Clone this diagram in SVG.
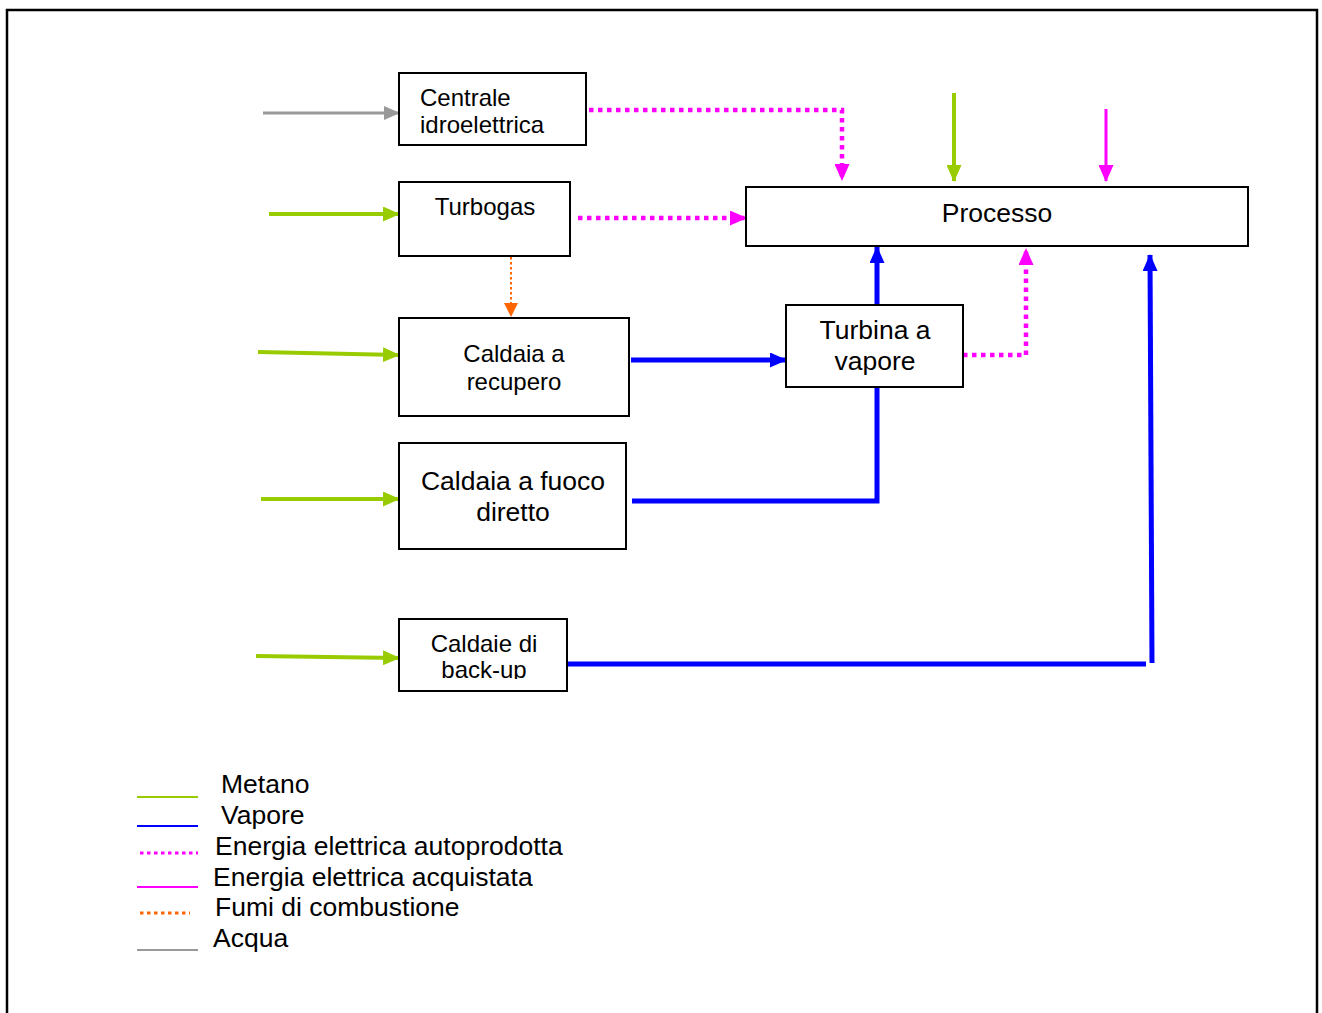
<svg xmlns="http://www.w3.org/2000/svg" width="1322" height="1013" viewBox="0 0 1322 1013">
<style>
.box{fill:#fff;stroke:#000;stroke-width:2}
.t{font-family:"Liberation Sans",Arial,sans-serif;fill:#000}
.s{font-size:24px}
.b{font-size:26.5px}
.green{stroke:#99cc00;stroke-width:4;fill:none}
.blue{stroke:#0000ff;stroke-width:5;fill:none}
.mag{stroke:#ff00ff;stroke-width:3;fill:none}
.magd{stroke:#ff00ff;stroke-width:4.5;stroke-dasharray:4.5 4.5;fill:none}
.orgd{stroke:#ff6600;stroke-width:2;stroke-dasharray:2.5 2.5;fill:none}
.gray{stroke:#999999;stroke-width:3;fill:none}
</style>
<defs>
<marker id="aG" markerUnits="userSpaceOnUse" markerWidth="17" markerHeight="15" refX="16" refY="7.5" orient="auto"><path d="M0,0L17,7.5L0,15z" fill="#99cc00"/></marker>
<marker id="aB" markerUnits="userSpaceOnUse" markerWidth="17" markerHeight="15" refX="16" refY="7.5" orient="auto"><path d="M0,0L17,7.5L0,15z" fill="#0000ff"/></marker>
<marker id="aM" markerUnits="userSpaceOnUse" markerWidth="17" markerHeight="15" refX="16" refY="7.5" orient="auto"><path d="M0,0L17,7.5L0,15z" fill="#ff00ff"/></marker>
<marker id="aO" markerUnits="userSpaceOnUse" markerWidth="14" markerHeight="14" refX="13" refY="7" orient="auto"><path d="M0,0L14,7L0,14z" fill="#ff6600"/></marker>
<marker id="aA" markerUnits="userSpaceOnUse" markerWidth="16" markerHeight="14" refX="15" refY="7" orient="auto"><path d="M0,0L16,7L0,14z" fill="#999999"/></marker>
<clipPath id="clipBk"><rect x="399" y="619" width="168" height="60"/></clipPath>
</defs>
<rect width="1322" height="1013" fill="#fff"/>
<path d="M7,1013V10H1317V1013" fill="none" stroke="#000" stroke-width="2.5"/>

<g id="connectors">
<path class="gray" d="M263,113H399" marker-end="url(#aA)"/>
<path class="green" d="M269,214H399" marker-end="url(#aG)"/>
<path class="green" d="M258,352L399,355" marker-end="url(#aG)"/>
<path class="green" d="M261,499H399" marker-end="url(#aG)"/>
<path class="green" d="M256,656L399,658" marker-end="url(#aG)"/>
<path class="green" d="M954,93V181" marker-end="url(#aG)"/>
<path class="mag" d="M1106,109V181" marker-end="url(#aM)"/>
<path class="magd" d="M589,110H842V180" marker-end="url(#aM)"/>
<path class="magd" d="M578,218H746" marker-end="url(#aM)"/>
<path class="magd" d="M963,355H1026V249" marker-end="url(#aM)"/>
<path class="orgd" d="M511,257V316" marker-end="url(#aO)"/>
<path class="blue" d="M631,360H786" marker-end="url(#aB)"/>
<path class="blue" d="M877,305V247" marker-end="url(#aB)"/>
<path class="blue" d="M632,501H877V387"/>
<path class="blue" d="M567,664H1146"/>
<path class="blue" d="M1152,663L1150,255" marker-end="url(#aB)"/>
</g>

<g id="centrale">
<rect class="box" x="399" y="73" width="187" height="72"/>
<text class="t s" x="420" y="106">Centrale</text>
<text class="t s" x="420" y="133">idroelettrica</text>
</g>
<g id="turbogas">
<rect class="box" x="399" y="182" width="171" height="74"/>
<text class="t s" x="485" y="215" text-anchor="middle">Turbogas</text>
</g>
<g id="caldaia-recupero">
<rect class="box" x="399" y="318" width="230" height="98"/>
<text class="t s" x="514" y="362" text-anchor="middle">Caldaia a</text>
<text class="t s" x="514" y="390" text-anchor="middle">recupero</text>
</g>
<g id="caldaia-fuoco">
<rect class="box" x="399" y="443" width="227" height="106"/>
<text class="t b" x="513" y="490" text-anchor="middle">Caldaia a fuoco</text>
<text class="t b" x="513" y="521" text-anchor="middle">diretto</text>
</g>
<g id="caldaie-backup">
<rect class="box" x="399" y="619" width="168" height="72"/>
<g clip-path="url(#clipBk)">
<text class="t s" x="484" y="652" text-anchor="middle">Caldaie di</text>
<text class="t s" x="484" y="678" text-anchor="middle">back-up</text>
</g>
</g>
<g id="processo">
<rect class="box" x="746" y="187" width="502" height="59"/>
<text class="t b" x="997" y="222" text-anchor="middle">Processo</text>
</g>
<g id="turbina">
<rect class="box" x="786" y="305" width="177" height="82"/>
<text class="t b" x="875" y="339" text-anchor="middle">Turbina a</text>
<text class="t b" x="875" y="370" text-anchor="middle">vapore</text>
</g>

<g id="legend">
<line x1="137" y1="797" x2="198" y2="797" stroke="#99cc00" stroke-width="2"/>
<text class="t b" x="221" y="793">Metano</text>
<line x1="137" y1="826" x2="198" y2="826" stroke="#0000ff" stroke-width="2"/>
<text class="t b" x="221" y="824">Vapore</text>
<line x1="140" y1="853" x2="198" y2="853" stroke="#ff00ff" stroke-width="3" stroke-dasharray="3.5 3.5"/>
<text class="t b" x="215" y="855">Energia elettrica autoprodotta</text>
<line x1="137" y1="887" x2="198" y2="887" stroke="#ff00ff" stroke-width="2"/>
<text class="t b" x="213" y="886">Energia elettrica acquistata</text>
<line x1="140" y1="913" x2="190" y2="913" stroke="#ff6600" stroke-width="3" stroke-dasharray="3.5 3.5"/>
<text class="t b" x="215" y="916">Fumi di combustione</text>
<line x1="137" y1="950" x2="198" y2="950" stroke="#999999" stroke-width="2"/>
<text class="t b" x="213" y="947">Acqua</text>
</g>
</svg>
